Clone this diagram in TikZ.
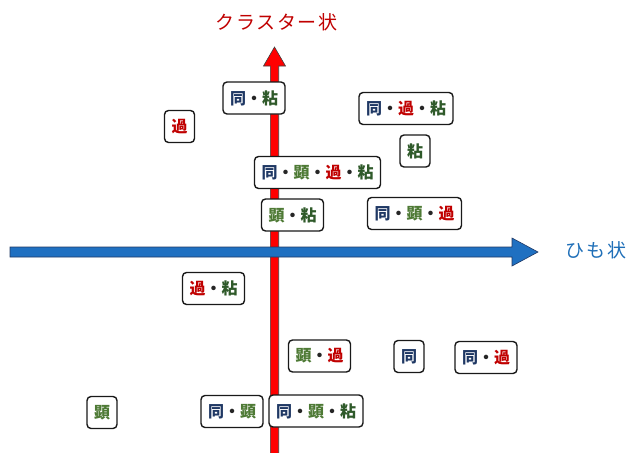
\documentclass[tikz,border=0pt]{standalone}
\usepackage{fontspec}
\setmainfont{Noto Sans CJK JP}
\newfontfamily\spacedcjk[LetterSpace=9]{Noto Sans CJK JP}
\usepackage{xcolor}
\definecolor{cdou}{HTML}{1F3864}
\definecolor{cken}{HTML}{4E7A35}
\definecolor{cka}{HTML}{C00000}
\definecolor{cnen}{HTML}{2F5A2A}
\definecolor{ctitle}{HTML}{C00000}
\definecolor{cblue}{HTML}{1F70C1}
\definecolor{cbluetxt}{HTML}{1F6FB8}
\newcommand{\kDou}{\textcolor{cdou}{同}}
\newcommand{\kKen}{\textcolor{cken}{顕}}
\newcommand{\kKa}{\textcolor{cka}{過}}
\newcommand{\kNen}{\textcolor{cnen}{粘}}
\newcommand{\kDot}{\textcolor{black!85}{・}}
\begin{document}
\begin{tikzpicture}[x=1pt,y=-1pt,
  kbox/.style={draw=black!90, line width=1.4pt, rounded corners=4pt, fill=white,
    minimum height=32pt, minimum width=30pt, inner xsep=7pt, inner ysep=0pt,
    font=\fontsize{16pt}{17pt}\selectfont\bfseries},
  lbl/.style={font=\spacedcjk\fontsize{19pt}{22pt}\selectfont, inner sep=0pt}]
\useasboundingbox (0,0) rectangle (630,453);
% vertical red arrow
\coordinate (vb) at (274.5,455);
\coordinate (vt) at (274.5,47);
\fill[red, draw=black!75, line width=0.6pt]
  ([xshift=-4.2pt]vb) -- ([xshift=-4.2pt,yshift=-19pt]vt) -- ([xshift=-11pt,yshift=-19pt]vt)
  -- (vt) -- ([xshift=11pt,yshift=-19pt]vt) -- ([xshift=4.2pt,yshift=-19pt]vt)
  -- ([xshift=4.2pt]vb) -- cycle;
% horizontal blue arrow
\coordinate (hl) at (10,252);
\coordinate (hr) at (538,252);
\fill[cblue, draw=cdou, line width=0.6pt]
  ([yshift=-5pt]hl) -- ([xshift=-26pt,yshift=-5pt]hr) -- ([xshift=-26pt,yshift=-14pt]hr)
  -- (hr) -- ([xshift=-26pt,yshift=14pt]hr) -- ([xshift=-26pt,yshift=5pt]hr)
  -- ([yshift=5pt]hl) -- cycle;
% axis labels
\node[lbl, text=ctitle] (ylab) at (276.5,22) {クラスター状};
\node[lbl, text=cbluetxt] (xlab) at (596,250) {ひも状};
% boxes
\node[kbox] (b1) at (254,98) {\kDou\kDot\kNen};
\node[kbox] (b2) at (179.5,126.5) {\kKa};
\node[kbox] (b3) at (406,108.5) {\kDou\kDot\kKa\kDot\kNen};
\node[kbox] (b4) at (415,151) {\kNen};
\node[kbox] (b5) at (317.5,172.5) {\kDou\kDot\kKen\kDot\kKa\kDot\kNen};
\node[kbox] (b6) at (292.5,215) {\kKen\kDot\kNen};
\node[kbox] (b7) at (414.5,213.5) {\kDou\kDot\kKen\kDot\kKa};
\node[kbox] (b8) at (213.5,288.5) {\kKa\kDot\kNen};
\node[kbox] (b9) at (319.5,356) {\kKen\kDot\kKa};
\node[kbox] (b10) at (409,356.5) {\kDou};
\node[kbox] (b11) at (486,357.5) {\kDou\kDot\kKa};
\node[kbox] (b12) at (102,412.5) {\kKen};
\node[kbox] (b13) at (232,411.5) {\kDou\kDot\kKen};
\node[kbox] (b14) at (316,411) {\kDou\kDot\kKen\kDot\kNen};
\end{tikzpicture}
\end{document}
